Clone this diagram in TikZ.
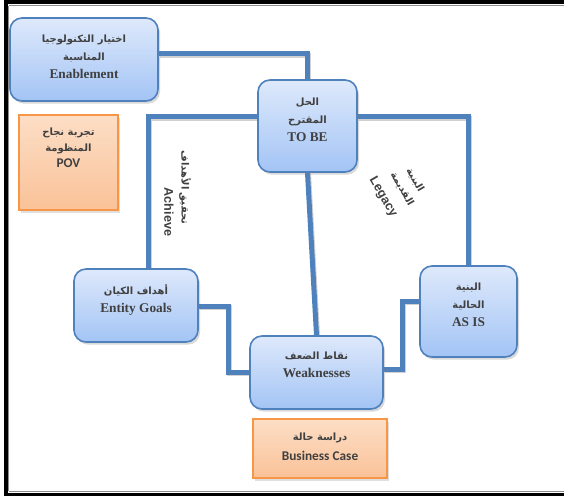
\documentclass[tikz,border=0pt]{standalone}
\usepackage{fontspec}
\setmainfont{Liberation Serif}
\newfontfamily\arabicfont[Script=Arabic]{DejaVu Sans}
\newfontfamily\carlito{Carlito}
\newfontfamily\arialfont{Liberation Sans}
\TeXXeTstate=1
\usetikzlibrary{calc,shadows,backgrounds}

\definecolor{linkblue}{RGB}{79,129,189}
\definecolor{boxtop}{RGB}{222,233,251}
\definecolor{boxbot}{RGB}{163,196,245}
\definecolor{orborder}{RGB}{247,150,70}
\definecolor{ortop}{RGB}{252,222,198}
\definecolor{orbot}{RGB}{250,194,152}
\definecolor{txtgray}{RGB}{64,64,64}

% Arabic run, right to left
\newcommand\artxt[1]{{\arabicfont\bfseries\fontsize{7.5}{13.5}\selectfont\beginR #1\endR}}

\tikzset{
  sized/.style 2 args={minimum width=#1*0.75pt, minimum height=#2*0.75pt, inner sep=0pt},
  bluebox/.style={draw=linkblue, line width=1.2pt, rounded corners=9pt,
    top color=boxtop, bottom color=boxbot,
    drop shadow={opacity=0.3, shadow xshift=1.5pt, shadow yshift=-2pt}},
  orangebox/.style={draw=orborder, line width=1.5pt,
    top color=ortop, bottom color=orbot,
    drop shadow={opacity=0.25, shadow xshift=1.5pt, shadow yshift=-2pt}},
  boxtext/.style={align=center, text=txtgray, inner sep=0pt,
    font=\bfseries\fontsize{10}{13.5}\selectfont},
  ortext/.style={align=center, text=txtgray, inner sep=0pt,
    font=\carlito\bfseries\fontsize{10}{12}\selectfont},
  linklabel/.style={align=center, text=txtgray, inner sep=0pt,
    font=\arialfont\bfseries\fontsize{9.5}{12}\selectfont},
  link/.style={draw=linkblue, line width=3.75pt,
    preaction={draw=black!18, line width=3.75pt, transform canvas={shift={(0.8pt,-0.8pt)}}}},
  frameblack/.style={draw=black, line width=2.7pt},
  framegray/.style={draw=black!45, line width=0.9pt}
}

\begin{document}
\begin{tikzpicture}[x=0.75pt, y=-0.75pt]
\useasboundingbox (0,0) rectangle (564,498);

% outer frame
\draw[frameblack] (4,2) -- (564,2);
\draw[frameblack] (5.8,0) -- (5.8,496.5);
\draw[frameblack] (4,494.7) -- (564,494.7);
\draw[framegray] (8.5,5.6) -- (564,5.6);
\draw[framegray] (8.7,5.6) -- (8.7,491.2);
\draw[framegray] (8.5,491.2) -- (564,491.2);

% boxes
\node[bluebox, sized={148}{83}] (enab) at (84,59.5) {};
\node[bluebox, sized={99}{92}] (tobe) at (307.5,126) {};
\node[orangebox, sized={99}{95}] (pov) at (68.5,162.5) {};
\node[bluebox, sized={124}{73}] (goals) at (136,305.5) {};
\node[bluebox, sized={97}{91}] (asis) at (468.5,311.5) {};
\node[bluebox, sized={133}{73}] (weak) at (316.5,372.5) {};
\node[orangebox, sized={134}{59}] (bcase) at (320,448.5) {};

% box captions
\node[boxtext] (enab-t) at (84,57) {\artxt{اختيار التكنولوجيا}\\\artxt{المناسبة}\\Enablement};
\node[boxtext] (tobe-t) at (307.5,120) {\artxt{الحل}\\\artxt{المقترح}\\TO BE};
\node[ortext] (pov-t) at (68.5,148) {\artxt{تجربة نجاح}\\\artxt{المنظومة}\\POV};
\node[boxtext] (goals-t) at (136,300) {\artxt{أهداف الكيان}\\Entity Goals};
\node[boxtext] (asis-t) at (468.5,305) {\artxt{البنية}\\\artxt{الحالية}\\AS IS};
\node[boxtext] (weak-t) at (316.5,365) {\artxt{نقاط الضعف}\\Weaknesses};
\node[ortext, font=\carlito\bfseries\fontsize{10}{15}\selectfont] (bcase-t) at (320,447) {\artxt{دراسة حالة}\\Business Case};

% connectors, kept behind the boxes
\begin{scope}[on background layer]
\draw[link] ($(enab.east)+(0,-5.5)$) -| (tobe.north);
\draw[link] ($(tobe.west)+(0,-9)$) -| ($(goals.north)+(12,0)$);
\draw[link] ($(tobe.east)+(0,-9)$) -| (asis.north);
\draw[link] (tobe.south) -- (weak.north);
\draw[link] ($(goals.east)+(0,1)$) -- ++(30,0) |- (weak.west);
\draw[link] ($(asis.west)+(0,-10)$) -- ++(-17,0) |- ($(weak.east)+(0,-3)$);
\end{scope}

% connector labels
\node[linklabel, rotate=-90] (achieve-ar) at (185,187.5) {\artxt{تحقيق الأهداف}};
\node[linklabel, rotate=-90] (achieve-en) at (169,212) {Achieve};
\node[linklabel, rotate=-60] (legacy-ar1) at (415,180) {\artxt{البنية}};
\node[linklabel, rotate=-60] (legacy-ar2) at (402,189) {\artxt{القديمة}};
\node[linklabel, rotate=-60] (legacy-en) at (383,197) {Legacy};
\end{tikzpicture}
\end{document}
